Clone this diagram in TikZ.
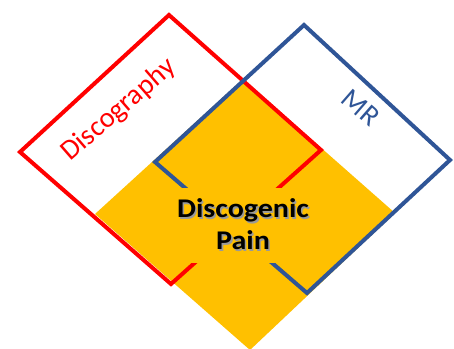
\documentclass[tikz,border=0pt]{standalone}
\usepackage{fontspec}
\setmainfont{Carlito}
\definecolor{dred}{RGB}{255,0,0}
\definecolor{dblue}{RGB}{47,85,151}
\definecolor{dyel}{RGB}{255,192,0}
\newcommand\shadowtxt[1]{\makebox[0pt][l]{\kern1.6pt\raisebox{-1.6pt}{\textcolor{black!40}{#1}}}#1}
\begin{document}
\begin{tikzpicture}[x=1pt,y=-1pt,
  edge/.style={line width=4pt, line join=miter},
  bigtext/.style={font=\bfseries\fontsize{30}{35.5}\selectfont, align=center, inner sep=0pt, yscale=0.9, transform shape},
  sidetext/.style={font=\fontsize{28.5}{28.5}\selectfont, inner sep=0pt}]
\useasboundingbox (0,0) rectangle (454,348);
% yellow diamond
\coordinate (yt) at (243,79);
\coordinate (yr) at (395,213);
\coordinate (yb) at (250,350);
\coordinate (yl) at (95,214);
\fill[dyel] (yt) -- (yr) -- (yb) -- (yl) -- cycle;
% red diamond
\coordinate (rt) at (169,15);
\coordinate (rr) at (321,150);
\coordinate (rb) at (171,284);
\coordinate (rl) at (20,152);
\draw[edge, dred] (rt) -- (rr) -- (rb) -- (rl) -- cycle;
% blue diamond
\coordinate (bt) at (304,25);
\coordinate (br) at (450,160);
\coordinate (bb) at (307,293);
\coordinate (bl) at (155,162);
\draw[edge, dblue] (bt) -- (br) -- (bb) -- (bl) -- cycle;
% cover
\node[fill=dyel, inner sep=0pt, minimum width=170pt, minimum height=75pt] (cover) at (245,225.5) {};
% centre text with shadow
\node[bigtext] (pain) at (243,225) {\shadowtxt{Discogenic}\\\shadowtxt{Pain}};
% side labels
\node[sidetext, text=dred, rotate=41] (dg) at (119,110) {Discography};
\node[sidetext, text=dblue, rotate=-41] (mr) at (361,108) {MR};
\end{tikzpicture}
\end{document}
